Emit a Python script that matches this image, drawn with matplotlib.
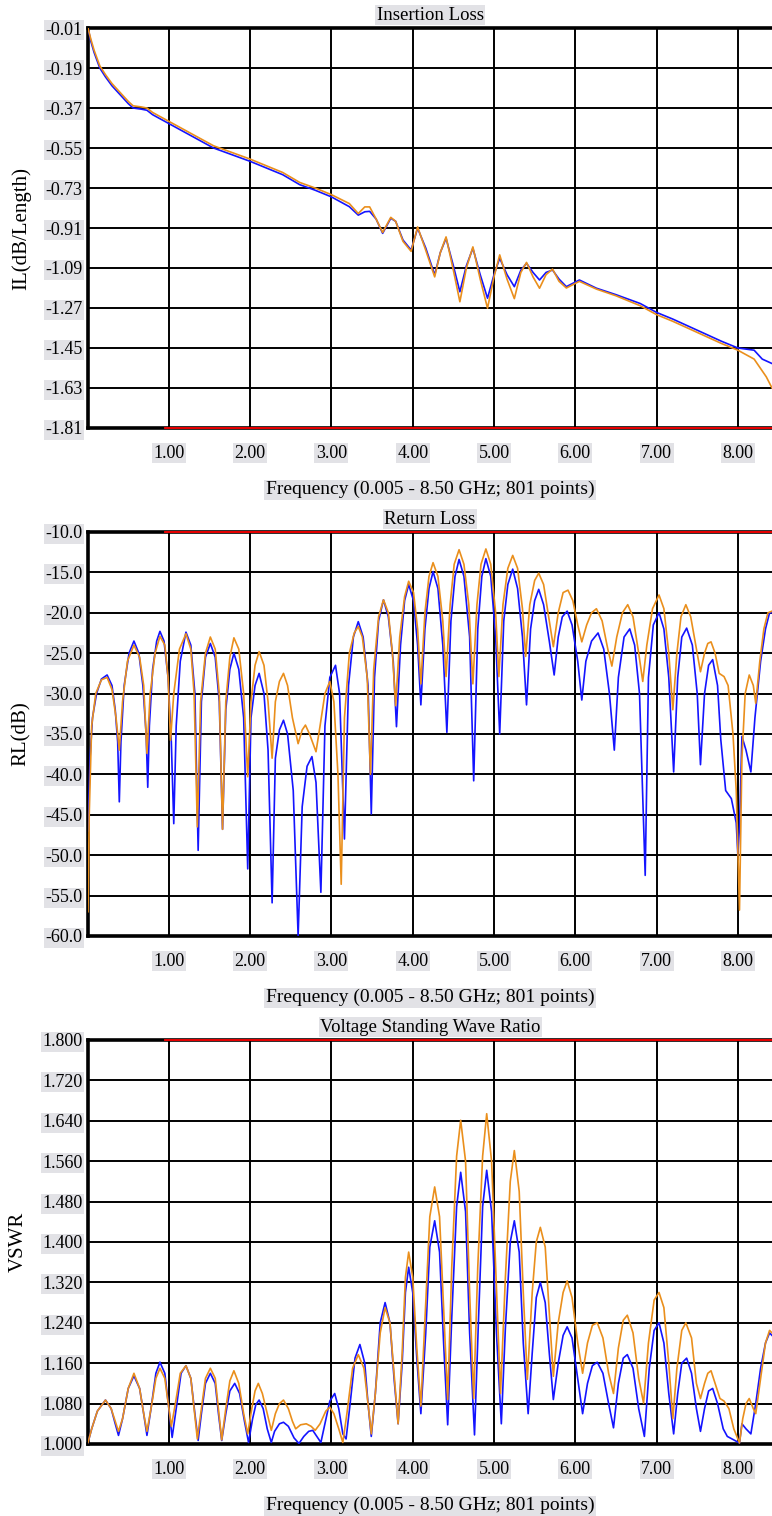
import numpy as np
import matplotlib
matplotlib.use("Agg")
import matplotlib.pyplot as plt

plt.rcParams['font.family'] = ['Liberation Serif', 'DejaVu Serif']

# x ticks shared by all panels
freq_ticks = [1.0, 2.0, 3.0, 4.0, 5.0, 6.0, 7.0, 8.0]
freq_tick_labels = ["1.00", "2.00", "3.00", "4.00", "5.00", "6.00", "7.00", "8.00"]
x_label = "Frequency (0.005 - 8.50 GHz; 801 points)"

# ---- Insertion loss (dB/Length)
il_ticks = [-0.01, -0.19, -0.37, -0.55, -0.73, -0.91, -1.09, -1.27, -1.45, -1.63, -1.81]
il_blue_f = [0.005, 0.04, 0.08, 0.15, 0.22, 0.30, 0.40, 0.50, 0.56, 0.66, 0.73, 0.80, 0.90, 1.00,
             1.10, 1.25, 1.40, 1.55, 1.70, 1.85, 2.00, 2.20, 2.40, 2.61, 2.80, 3.00, 3.22, 3.33,
             3.41, 3.47, 3.55, 3.63, 3.73, 3.79, 3.88, 3.98, 4.06, 4.16, 4.27, 4.34, 4.41, 4.50,
             4.58, 4.66, 4.74, 4.83, 4.92, 5.00, 5.07, 5.16, 5.25, 5.33, 5.40, 5.48, 5.56, 5.64,
             5.72, 5.80, 5.89, 6.05, 6.26, 6.50, 6.80, 7.00, 7.20, 7.50, 7.80, 8.00, 8.20, 8.30, 8.42]
il_blue_v = [-0.01, -0.07, -0.12, -0.19, -0.23, -0.27, -0.31, -0.35, -0.37, -0.375, -0.38, -0.40,
             -0.42, -0.44, -0.46, -0.49, -0.52, -0.55, -0.57, -0.59, -0.61, -0.64, -0.67, -0.715,
             -0.74, -0.77, -0.814, -0.852, -0.837, -0.835, -0.87, -0.934, -0.866, -0.88, -0.964,
             -1.009, -0.911, -1.00, -1.121, -1.02, -0.956, -1.08, -1.197, -1.08, -1.001, -1.12,
             -1.226, -1.12, -1.046, -1.12, -1.174, -1.10, -1.069, -1.11, -1.144, -1.11, -1.099,
             -1.14, -1.174, -1.144, -1.181, -1.21, -1.25, -1.29, -1.32, -1.37, -1.42, -1.45,
             -1.46, -1.50, -1.52]
il_orange_f = [0.005, 0.04, 0.08, 0.15, 0.22, 0.30, 0.40, 0.50, 0.56, 0.66, 0.73, 0.80, 0.90, 1.00,
               1.10, 1.25, 1.40, 1.55, 1.70, 1.85, 2.00, 2.20, 2.40, 2.61, 2.80, 3.00, 3.22, 3.33,
               3.41, 3.47, 3.55, 3.63, 3.73, 3.79, 3.88, 3.98, 4.06, 4.16, 4.27, 4.34, 4.41, 4.50,
               4.58, 4.66, 4.74, 4.83, 4.92, 5.00, 5.07, 5.16, 5.25, 5.33, 5.40, 5.48, 5.56, 5.64,
               5.72, 5.80, 5.89, 6.05, 6.26, 6.50, 6.80, 7.00, 7.20, 7.50, 7.80, 8.00, 8.20, 8.35, 8.42]
il_orange_v = [-0.01, -0.06, -0.11, -0.18, -0.22, -0.26, -0.30, -0.34, -0.36, -0.365, -0.37, -0.39,
               -0.41, -0.43, -0.45, -0.48, -0.51, -0.54, -0.56, -0.58, -0.60, -0.63, -0.66, -0.705,
               -0.73, -0.76, -0.80, -0.845, -0.815, -0.815, -0.87, -0.93, -0.862, -0.88, -0.97,
               -1.015, -0.905, -1.01, -1.13, -1.02, -0.95, -1.10, -1.242, -1.09, -0.995, -1.14,
               -1.271, -1.13, -1.031, -1.14, -1.228, -1.11, -1.065, -1.13, -1.181, -1.12, -1.095,
               -1.15, -1.18, -1.15, -1.185, -1.215, -1.26, -1.30, -1.33, -1.38, -1.43, -1.46,
               -1.50, -1.58, -1.63]

# ---- Return loss (dB)
rl_ticks = [-10.0, -15.0, -20.0, -25.0, -30.0, -35.0, -40.0, -45.0, -50.0, -55.0, -60.0]
rl_blue_f = [0.005, 0.03, 0.06, 0.11, 0.17, 0.24, 0.30, 0.34, 0.37, 0.39, 0.41, 0.45, 0.51, 0.57,
             0.63, 0.68, 0.72, 0.74, 0.76, 0.80, 0.85, 0.89, 0.94, 0.99, 1.03, 1.06, 1.09, 1.14,
             1.21, 1.27, 1.32, 1.36, 1.40, 1.45, 1.51, 1.57, 1.62, 1.66, 1.70, 1.75, 1.80, 1.86,
             1.92, 1.97, 2.01, 2.06, 2.11, 2.17, 2.22, 2.27, 2.31, 2.36, 2.41, 2.46, 2.53, 2.59,
             2.64, 2.70, 2.76, 2.81, 2.87, 2.92, 2.98, 3.05, 3.10, 3.16, 3.21, 3.27, 3.33, 3.39,
             3.45, 3.49, 3.53, 3.58, 3.64, 3.70, 3.76, 3.80, 3.85, 3.90, 3.95, 4.01, 4.06, 4.10,
             4.15, 4.20, 4.25, 4.31, 4.37, 4.42, 4.47, 4.52, 4.57, 4.63, 4.70, 4.75, 4.80, 4.85,
             4.90, 4.96, 5.02, 5.07, 5.12, 5.17, 5.23, 5.29, 5.35, 5.40, 5.45, 5.50, 5.55, 5.61,
             5.68, 5.74, 5.79, 5.84, 5.90, 5.96, 6.03, 6.08, 6.13, 6.20, 6.28, 6.35, 6.42, 6.48,
             6.53, 6.60, 6.67, 6.73, 6.79, 6.86, 6.90, 6.96, 7.03, 7.09, 7.15, 7.21, 7.26, 7.31,
             7.37, 7.44, 7.50, 7.54, 7.59, 7.64, 7.69, 7.75, 7.79, 7.85, 7.92, 7.98, 8.00, 8.02,
             8.05, 8.10, 8.16, 8.21, 8.28, 8.34, 8.39, 8.42]
rl_blue_v = [-47.0, -38.0, -33.0, -30.0, -28.2, -27.7, -29.0, -32.0, -36.0, -43.4, -36.0, -29.0,
             -25.0, -23.5, -25.0, -29.0, -35.0, -41.6, -34.0, -27.0, -23.5, -22.3, -23.5, -28.0,
             -36.0, -46.1, -34.0, -26.0, -22.4, -24.0, -30.0, -49.4, -31.0, -25.5, -23.8, -25.5,
             -31.0, -46.8, -32.0, -27.0, -25.0, -27.0, -33.0, -51.7, -33.0, -29.0, -27.5, -30.0,
             -37.0, -55.9, -38.0, -34.5, -33.3, -35.0, -42.0, -60.0, -44.0, -39.0, -37.8, -41.0,
             -54.6, -34.0, -28.0, -26.5, -30.0, -48.0, -29.0, -23.0, -21.1, -23.0, -29.0, -44.9,
             -28.0, -21.0, -18.4, -20.5, -26.0, -34.1, -24.0, -18.5, -16.5, -18.5, -24.0, -31.4,
             -22.0, -17.0, -14.9, -17.0, -24.0, -34.8, -21.0, -15.5, -13.4, -15.5, -23.0, -40.8,
             -22.0, -15.5, -13.3, -15.5, -23.0, -35.0, -21.0, -16.5, -14.6, -17.0, -23.0, -31.4,
             -22.0, -18.5, -17.1, -19.0, -23.5, -27.7, -23.0, -20.5, -19.8, -21.5, -26.0, -30.8,
             -26.0, -23.5, -22.5, -24.5, -30.0, -37.0, -28.0, -23.0, -22.0, -24.0, -30.0, -52.5,
             -28.0, -21.5, -20.0, -22.0, -28.0, -39.7, -28.0, -23.0, -21.9, -24.0, -30.0, -38.8,
             -30.0, -26.5, -25.8, -29.0, -35.7, -42.0, -43.0, -46.0, -50.0, -46.5, -35.3, -37.0,
             -39.7, -33.0, -26.0, -22.0, -20.0, -20.0]
rl_orange_f = [0.005, 0.02, 0.05, 0.10, 0.17, 0.24, 0.30, 0.35, 0.39, 0.43, 0.49, 0.57, 0.64, 0.69,
               0.73, 0.77, 0.83, 0.89, 0.95, 0.99, 1.02, 1.06, 1.13, 1.21, 1.27, 1.31, 1.35, 1.39,
               1.45, 1.51, 1.57, 1.62, 1.66, 1.70, 1.75, 1.80, 1.86, 1.92, 1.97, 2.01, 2.06, 2.11,
               2.17, 2.22, 2.27, 2.31, 2.36, 2.41, 2.46, 2.52, 2.59, 2.64, 2.68, 2.73, 2.81, 2.86,
               2.92, 2.98, 3.03, 3.08, 3.12, 3.16, 3.22, 3.28, 3.33, 3.38, 3.44, 3.48, 3.52, 3.58,
               3.64, 3.70, 3.75, 3.79, 3.84, 3.90, 3.95, 4.01, 4.06, 4.10, 4.15, 4.20, 4.25, 4.31,
               4.37, 4.41, 4.46, 4.51, 4.57, 4.63, 4.69, 4.74, 4.79, 4.84, 4.90, 4.96, 5.02, 5.06,
               5.11, 5.17, 5.23, 5.29, 5.35, 5.39, 5.44, 5.50, 5.55, 5.61, 5.68, 5.73, 5.79, 5.85,
               5.91, 5.97, 6.03, 6.08, 6.14, 6.20, 6.26, 6.33, 6.40, 6.45, 6.51, 6.58, 6.645, 6.71,
               6.78, 6.83, 6.88, 6.95, 7.03, 7.09, 7.15, 7.20, 7.25, 7.30, 7.36, 7.42, 7.49, 7.54,
               7.59, 7.63, 7.67, 7.72, 7.77, 7.83, 7.88, 7.94, 7.98, 8.02, 8.05, 8.09, 8.14, 8.19,
               8.22, 8.27, 8.32, 8.37, 8.42]
rl_orange_v = [-57.0, -45.0, -34.0, -30.0, -28.3, -28.0, -29.5, -33.0, -37.0, -31.0, -26.0, -24.0,
               -25.5, -29.0, -37.4, -30.0, -25.0, -22.9, -24.0, -28.0, -35.8, -30.0, -24.5, -22.6,
               -24.5, -30.0, -46.5, -31.0, -25.0, -23.0, -24.5, -30.0, -46.8, -31.0, -25.5, -23.1,
               -24.5, -30.0, -40.3, -31.0, -26.5, -24.8, -26.5, -31.0, -38.0, -31.0, -28.5, -27.5,
               -29.0, -33.0, -36.2, -34.5, -33.9, -35.0, -37.2, -34.0, -30.0, -28.5, -31.0, -40.0,
               -53.6, -33.0, -25.0, -22.5, -21.7, -23.0, -28.0, -40.0, -27.0, -20.5, -18.4, -20.0,
               -25.0, -31.5, -23.0, -18.0, -16.1, -17.5, -22.0, -28.8, -20.0, -15.5, -13.8, -15.5,
               -21.0, -27.9, -19.0, -14.0, -12.2, -14.0, -19.0, -28.8, -19.0, -14.0, -12.1, -14.0,
               -20.0, -27.9, -19.0, -14.5, -12.9, -14.5, -19.5, -25.4, -19.0, -16.0, -15.1, -16.5,
               -21.0, -24.2, -20.0, -17.5, -17.2, -18.5, -21.5, -23.6, -21.5, -20.0, -19.5, -21.0,
               -24.5, -26.6, -23.0, -20.0, -19.0, -20.5, -25.0, -28.5, -24.0, -19.5, -17.8, -19.5,
               -25.0, -32.0, -25.0, -20.5, -19.0, -20.5, -24.5, -27.3, -25.0, -23.8, -23.6, -25.0,
               -27.5, -27.9, -29.0, -35.0, -42.0, -56.8, -38.0, -30.0, -27.7, -29.0, -31.2, -26.0,
               -22.0, -20.0, -19.8]

# ---- VSWR
vswr_ticks = [1.800, 1.720, 1.640, 1.560, 1.480, 1.400, 1.320, 1.240, 1.160, 1.080, 1.000]
vswr_blue_f = [0.005, 0.05, 0.12, 0.22, 0.29, 0.34, 0.38, 0.43, 0.50, 0.57, 0.64, 0.69, 0.73, 0.78,
               0.84, 0.89, 0.95, 1.00, 1.04, 1.09, 1.15, 1.21, 1.27, 1.32, 1.36, 1.40, 1.45, 1.51,
               1.57, 1.61, 1.65, 1.70, 1.75, 1.81, 1.87, 1.93, 1.98, 2.03, 2.07, 2.11, 2.16, 2.21,
               2.26, 2.30, 2.36, 2.41, 2.47, 2.54, 2.60, 2.66, 2.72, 2.77, 2.82, 2.87, 2.92, 2.98,
               3.04, 3.09, 3.14, 3.18, 3.23, 3.29, 3.35, 3.41, 3.45, 3.49, 3.54, 3.60, 3.66, 3.72,
               3.77, 3.82, 3.87, 3.91, 3.95, 4.00, 4.05, 4.10, 4.16, 4.21, 4.27, 4.33, 4.38, 4.43,
               4.48, 4.54, 4.59, 4.65, 4.70, 4.76, 4.81, 4.86, 4.91, 4.97, 5.03, 5.09, 5.14, 5.20,
               5.25, 5.31, 5.36, 5.42, 5.47, 5.52, 5.57, 5.63, 5.68, 5.73, 5.79, 5.85, 5.90, 5.96,
               6.03, 6.09, 6.15, 6.21, 6.27, 6.34, 6.41, 6.47, 6.53, 6.59, 6.64, 6.71, 6.78, 6.85,
               6.91, 6.97, 7.03, 7.09, 7.15, 7.21, 7.26, 7.31, 7.37, 7.43, 7.49, 7.54, 7.59, 7.64,
               7.69, 7.75, 7.82, 7.87, 7.95, 8.02, 8.05, 8.10, 8.16, 8.22, 8.28, 8.34, 8.39, 8.42]
vswr_blue_v = [1.003, 1.030, 1.065, 1.087, 1.070, 1.040, 1.017, 1.050, 1.110, 1.135, 1.110, 1.060,
               1.017, 1.070, 1.140, 1.162, 1.140, 1.070, 1.013, 1.070, 1.140, 1.155, 1.130, 1.060,
               1.007, 1.060, 1.120, 1.140, 1.120, 1.060, 1.007, 1.060, 1.105, 1.120, 1.100, 1.045,
               1.003, 1.050, 1.078, 1.087, 1.070, 1.030, 1.003, 1.025, 1.040, 1.043, 1.035, 1.012,
               1.001, 1.015, 1.025, 1.027, 1.015, 1.003, 1.040, 1.085, 1.100, 1.070, 1.020, 1.010,
               1.080, 1.170, 1.197, 1.160, 1.080, 1.015, 1.100, 1.240, 1.280, 1.240, 1.130, 1.040,
               1.160, 1.300, 1.350, 1.300, 1.170, 1.060, 1.220, 1.390, 1.442, 1.380, 1.200, 1.038,
               1.250, 1.470, 1.538, 1.460, 1.220, 1.018, 1.250, 1.470, 1.542, 1.460, 1.220, 1.040,
               1.230, 1.400, 1.442, 1.380, 1.200, 1.060, 1.180, 1.290, 1.320, 1.280, 1.180, 1.088,
               1.160, 1.215, 1.232, 1.210, 1.130, 1.060, 1.120, 1.155, 1.162, 1.140, 1.080, 1.032,
               1.120, 1.170, 1.177, 1.150, 1.070, 1.015, 1.150, 1.225, 1.240, 1.200, 1.100, 1.020,
               1.100, 1.160, 1.170, 1.140, 1.070, 1.025, 1.070, 1.105, 1.110, 1.080, 1.030, 1.015,
               1.008, 1.002, 1.040, 1.030, 1.020, 1.080, 1.150, 1.200, 1.220, 1.215]
vswr_orange_f = [0.005, 0.05, 0.12, 0.22, 0.29, 0.34, 0.38, 0.43, 0.50, 0.57, 0.64, 0.69, 0.73, 0.78,
                 0.84, 0.89, 0.95, 1.00, 1.03, 1.08, 1.14, 1.21, 1.27, 1.31, 1.35, 1.40, 1.45, 1.51,
                 1.57, 1.61, 1.65, 1.70, 1.75, 1.80, 1.86, 1.92, 1.97, 2.02, 2.06, 2.10, 2.15, 2.21,
                 2.26, 2.31, 2.36, 2.41, 2.47, 2.52, 2.56, 2.62, 2.69, 2.75, 2.80, 2.86, 2.93, 2.98,
                 3.03, 3.09, 3.14, 3.19, 3.26, 3.33, 3.40, 3.45, 3.49, 3.54, 3.60, 3.66, 3.72, 3.77,
                 3.82, 3.87, 3.91, 3.95, 4.00, 4.05, 4.10, 4.16, 4.21, 4.27, 4.33, 4.38, 4.43, 4.48,
                 4.54, 4.59, 4.65, 4.70, 4.75, 4.80, 4.86, 4.91, 4.97, 5.03, 5.08, 5.14, 5.20, 5.25,
                 5.31, 5.36, 5.41, 5.47, 5.52, 5.57, 5.63, 5.68, 5.73, 5.79, 5.85, 5.90, 5.96, 6.03,
                 6.09, 6.15, 6.21, 6.27, 6.34, 6.41, 6.47, 6.53, 6.59, 6.64, 6.71, 6.78, 6.84, 6.90,
                 6.97, 7.03, 7.09, 7.15, 7.20, 7.25, 7.31, 7.36, 7.43, 7.49, 7.54, 7.59, 7.63, 7.67,
                 7.72, 7.78, 7.83, 7.89, 7.95, 8.02, 8.06, 8.10, 8.14, 8.19, 8.22, 8.28, 8.34, 8.39,
                 8.42]
vswr_orange_v = [1.003, 1.030, 1.065, 1.087, 1.070, 1.045, 1.025, 1.050, 1.110, 1.140, 1.110, 1.060,
                 1.025, 1.070, 1.130, 1.150, 1.130, 1.070, 1.035, 1.080, 1.140, 1.155, 1.130, 1.070,
                 1.010, 1.070, 1.130, 1.150, 1.130, 1.070, 1.008, 1.070, 1.125, 1.145, 1.120, 1.060,
                 1.020, 1.070, 1.105, 1.120, 1.100, 1.060, 1.027, 1.060, 1.080, 1.087, 1.070, 1.045,
                 1.030, 1.038, 1.040, 1.035, 1.027, 1.040, 1.065, 1.073, 1.060, 1.030, 1.003, 1.060,
                 1.150, 1.177, 1.150, 1.080, 1.020, 1.100, 1.220, 1.270, 1.240, 1.140, 1.040, 1.180,
                 1.330, 1.380, 1.330, 1.190, 1.075, 1.280, 1.450, 1.509, 1.450, 1.270, 1.088, 1.350,
                 1.570, 1.641, 1.560, 1.300, 1.090, 1.350, 1.570, 1.654, 1.560, 1.310, 1.100, 1.330,
                 1.520, 1.581, 1.500, 1.300, 1.128, 1.300, 1.400, 1.429, 1.390, 1.260, 1.134, 1.240,
                 1.300, 1.323, 1.290, 1.200, 1.140, 1.200, 1.235, 1.240, 1.210, 1.140, 1.100, 1.190,
                 1.245, 1.255, 1.220, 1.130, 1.081, 1.200, 1.285, 1.300, 1.270, 1.160, 1.050, 1.150,
                 1.225, 1.240, 1.210, 1.120, 1.090, 1.120, 1.140, 1.145, 1.120, 1.090, 1.085, 1.070,
                 1.030, 1.002, 1.050, 1.080, 1.090, 1.070, 1.060, 1.130, 1.200, 1.225, 1.220]

BLUE = "#1414ff"
ORANGE = "#ea8f1c"
BOX = dict(facecolor="#e2e2e6", edgecolor="none", pad=1.0)
FS = 13

fig = plt.figure(figsize=(7.72, 15.16), dpi=100)

panels = [
    ("Insertion Loss", "IL(dB/Length)", il_ticks, "{:.2f}", il_blue_f, il_blue_v, il_orange_f, il_orange_v,
     [0.114, 0.7177, 0.886, 0.2638], "bottom"),
    ("Return Loss", "RL(dB)", rl_ticks, "{:.1f}", rl_blue_f, rl_blue_v, rl_orange_f, rl_orange_v,
     [0.114, 0.3826, 0.886, 0.2665], "top"),
    ("Voltage Standing Wave Ratio", "VSWR", vswr_ticks, "{:.3f}", vswr_blue_f, vswr_blue_v,
     vswr_orange_f, vswr_orange_v, [0.114, 0.0475, 0.886, 0.2665], "top"),
]

for title, ylab, yt, fmt, bf, bv, of, ov, rect, red_side in panels:
    ax = fig.add_axes(rect)
    ax.plot(bf, bv, color=BLUE, lw=1.2, zorder=3)
    ax.plot(of, ov, color=ORANGE, lw=1.2, zorder=4)
    ax.set_xlim(0.005, 8.42)
    ax.set_ylim(min(yt), max(yt))
    ax.set_xticks(freq_ticks)
    ax.set_xticklabels(freq_tick_labels)
    ax.set_yticks(yt)
    ax.set_yticklabels([fmt.format(t) for t in yt])
    ax.grid(True, color="black", lw=1.4)
    ax.set_axisbelow(True)
    ax.tick_params(length=0, labelsize=FS, pad=4)
    ax.tick_params(axis="x", pad=12)
    for lbl in ax.get_xticklabels() + ax.get_yticklabels():
        lbl.set_bbox(BOX)
    for side in ["left", "bottom", "top"]:
        ax.spines[side].set_linewidth(2.6)
        ax.spines[side].set_color("black")
    ax.spines["right"].set_visible(False)
    ylim = ax.get_ylim()
    red_y = ylim[0] if red_side == "bottom" else ylim[1]
    ax.plot([0.95, 8.42], [red_y, red_y], color="red", lw=1.3, clip_on=False, zorder=6)
    ax.set_title(title, fontsize=13.5, pad=6, bbox=BOX)
    ax.set_xlabel(x_label, fontsize=14, labelpad=14, bbox=BOX)
    ax.set_ylabel(ylab, fontsize=15, labelpad=10)

fig.savefig("out.png", dpi=100)
